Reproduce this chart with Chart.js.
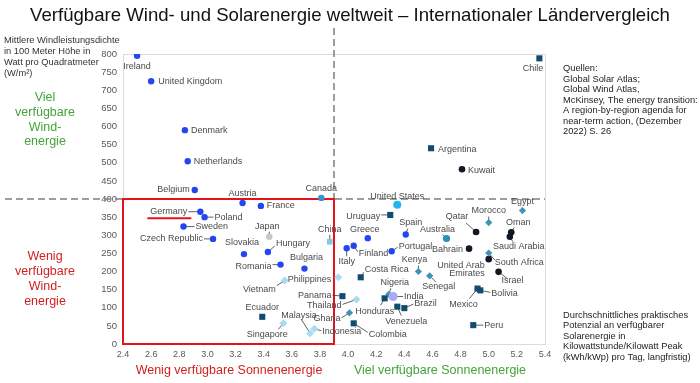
<!DOCTYPE html>
<html>
<head>
<meta charset="utf-8">
<script src="https://cdn.jsdelivr.net/npm/chart.js@4"></script>
<style>
  html, body { margin: 0; padding: 0; background: #fff; }
  #chart { display: block; }
</style>
</head>
<body>
<canvas id="chart" width="700" height="383"></canvas>
<script>
// x = solar potential (kWh/kWp per day), y = wind power density (W/m²)
const europeNames = ['Ireland', 'United Kingdom', 'Denmark', 'Netherlands', 'Belgium', 'Austria', 'France', 'Germany', 'Poland', 'Sweden',
  'Czech Republic', 'Slovakia', 'Hungary', 'Romania', 'Bulgaria', 'Greece', 'Finland', 'Italy', 'Spain', 'Portugal'];
const europeSolar = [2.50, 2.60, 2.84, 2.86, 2.91, 3.25, 3.38, 2.95, 2.98, 2.83, 3.04, 3.26, 3.43, 3.52, 3.69, 4.14, 4.04, 3.99, 4.41, 4.31];
const europeWind = [795, 725, 590, 504, 425, 389, 381, 365, 350, 324, 290, 248, 254, 219, 208, 292, 271, 264, 302, 256];

const otherNames = ['Japan', 'Canada', 'United States', 'China', 'India', 'Australia'];
const otherSolar = [3.44, 3.81, 4.35, 3.87, 4.32, 4.70];
const otherWind = [296, 403, 384, 282, 131, 291];

const latamNames = ['Chile', 'Argentina', 'Uruguay', 'Costa Rica', 'Panama', 'Ecuador', 'Honduras', 'Brazil', 'Venezuela', 'Colombia',
  'Mexico', 'Bolivia', 'Peru'];
const latamSolar = [5.36, 4.59, 4.30, 4.09, 3.96, 3.39, 4.26, 4.40, 4.35, 4.04, 4.92, 4.94, 4.89];
const latamWind = [788, 540, 356, 184, 132, 75, 126, 99, 103, 57, 153, 148, 52];

const africaNames = ['Egypt', 'Morocco', 'South Africa', 'Kenya', 'Senegal', 'Nigeria', 'Ghana'];
const africaSolar = [5.24, 5.00, 5.00, 4.50, 4.58, 4.29, 4.01];
const africaWind = [368, 335, 251, 200, 188, 137, 86];

const asiaNames = ['Philippines', 'Vietnam', 'Thailand', 'Malaysia', 'Singapore', 'Indonesia'];
const asiaSolar = [3.93, 3.55, 4.06, 3.73, 3.54, 3.76];
const asiaWind = [184, 175, 123, 30, 57, 42];

const mideastNames = ['Kuwait', 'Qatar', 'Oman', 'Saudi Arabia', 'Bahrain', 'United Arab Emirates', 'Israel'];
const mideastSolar = [4.81, 4.91, 5.16, 5.15, 4.86, 5.00, 5.07];
const mideastWind = [482, 309, 308, 296, 263, 234, 199];

const solarTicks = { min: 2.4, max: 5.4, step: 0.2 };
const windTicks = { min: 0, max: 800, step: 50 };
const solarSplit = 3.9;
const windSplit = 400;

const otherColors = ['#c8c8c8', '#3b8fd4', '#25b5ee', '#80c8e6', '#a9aaf6', '#2a8fb8'];
const otherStyles = ['circle', 'circle', 'circle', 'rect', 'circle', 'circle'];
const otherSizes = [3.2, 3.2, 4, 4, 4.5, 3.6];

// label placement: [dx, dy, align, leader end dx, leader end dy]
const labelPos = {
  'Ireland': [0, 11, 'center'], 'United Kingdom': [7, 0, 'left'], 'Denmark': [6, 0, 'left'],
  'Netherlands': [6, 0, 'left'], 'Belgium': [-5, 0, 'right'], 'Austria': [0, -9, 'center'],
  'France': [6, 0, 'left'], 'Canada': [0, -9, 'center'], 'Germany': [-13, 0, 'right', -12, 0],
  'Poland': [10, 0, 'left', 9, 0], 'Sweden': [12, 0, 'left', 11, 0], 'Czech Republic': [-10, 0, 'right', -9, 0],
  'Slovakia': [-2, -12, 'center'], 'Japan': [-2, -10, 'center', 0, -5], 'Hungary': [8, -8, 'left', 7, -6],
  'Romania': [-9, 2, 'right', -8, 0], 'Bulgaria': [2, -11, 'center'], 'China': [0, -12, 'center', 0, -7],
  'Philippines': [-7, 2, 'right'], 'Vietnam': [-9, 9, 'right', -8, 5], 'Panama': [-11, -1, 'right', -10, -1],
  'Thailand': [-15, 6, 'right', -14, 5], 'Ecuador': [0, -9, 'center'], 'Malaysia': [-11, -18, 'center', -9, -14],
  'Singapore': [-16, 11, 'center', -5, 6], 'Indonesia': [8, 3, 'left', 7, 2], 'Ghana': [-9, 6, 'right', -8, 5],
  'Colombia': [15, 11, 'left', 14, 9], 'United States': [0, -8, 'center'], 'Uruguay': [-10, 2, 'right', -9, 0],
  'Spain': [5, -12, 'center', 2, -6], 'Greece': [-3, -9, 'center'], 'Finland': [5, 8, 'left', 4, 6],
  'Italy': [0, 13, 'center', 0, 8], 'Portugal': [7, -5, 'left', 6, -4], 'Australia': [-9, -9, 'center', -4, -4],
  'Qatar': [-19, -15, 'center', -10, -9], 'Morocco': [0, -12, 'center', 0, -6], 'Egypt': [0, -9, 'center'],
  'Oman': [7, -10, 'center', 3, -5], 'Saudi Arabia': [9, 10, 'center', 3, 5], 'Bahrain': [-6, 1, 'right'],
  'South Africa': [6, 10, 'left', 6, 7], 'United Arab Emirates': [-4, 6, 'right'], 'Israel': [14, 9, 'center', 9, 7],
  'Kenya': [-4, -12, 'center', 0, -6], 'Senegal': [9, 11, 'center', 6, 6], 'Costa Rica': [4, -8, 'left', 3, -5],
  'Nigeria': [6, -12, 'center', 2, -6], 'India': [11, 0, 'left', 10, 0], 'Honduras': [-10, 13, 'center', -4, 7],
  'Brazil': [10, -5, 'left', 9, -4], 'Venezuela': [9, 15, 'center', 4, 9], 'Mexico': [-14, 16, 'center', -8, 10],
  'Bolivia': [11, 3, 'left', 10, 2], 'Peru': [11, 0, 'left', 10, 0], 'Chile': [4, 10, 'right'],
  'Argentina': [7, 1, 'left'], 'Kuwait': [6, 1, 'left']
};
const labelText = { 'United Arab Emirates': 'United Arab\nEmirates' };

const FONT = '"Liberation Sans", Arial, sans-serif';

function toPoints(solar, wind) {
  return solar.map((s, i) => ({ x: s, y: wind[i] }));
}

function line(ctx, x1, y1, x2, y2) {
  ctx.beginPath();
  ctx.moveTo(x1, y1);
  ctx.lineTo(x2, y2);
  ctx.stroke();
}

function textLines(ctx, lines, x, y, step) {
  lines.forEach((t, i) => ctx.fillText(t, x, y + i * step));
}

const overlay = {
  id: 'overlay',
  beforeDatasetsDraw(chart) {
    const { ctx, chartArea: a, scales: { x, y } } = chart;
    ctx.save();
    ctx.strokeStyle = '#dcdcdc';
    ctx.lineWidth = 1;
    ctx.strokeRect(a.left + 0.5, a.top + 0.5, a.right - a.left, a.bottom - a.top);

    const yw = y.getPixelForValue(windSplit);
    const xs = x.getPixelForValue(solarSplit);
    ctx.setLineDash([7, 4]);
    ctx.strokeStyle = '#7f7f7f';
    ctx.lineWidth = 1.5;
    line(ctx, 5, yw, a.right, yw);
    line(ctx, xs, 28, xs, yw);
    ctx.setLineDash([]);

    ctx.strokeStyle = '#e3131b';
    ctx.lineWidth = 2;
    const x0 = x.getPixelForValue(solarTicks.min);
    ctx.strokeRect(x0, yw, xs - x0, y.getPixelForValue(0) - yw);

    // leader lines, markers go on top of them
    ctx.strokeStyle = '#3a3a3a';
    ctx.lineWidth = 0.8;
    chart.data.datasets.forEach((ds, i) => {
      chart.getDatasetMeta(i).data.forEach((pt, j) => {
        const p = labelPos[ds.names[j]];
        if (p && p.length > 3) line(ctx, pt.x, pt.y, pt.x + p[3], pt.y + p[4]);
      });
    });
    ctx.restore();
  },
  afterDatasetsDraw(chart) {
    const ctx = chart.ctx;
    ctx.save();
    ctx.font = '9px ' + FONT;
    ctx.fillStyle = '#4a4a4a';
    ctx.textBaseline = 'middle';
    chart.data.datasets.forEach((ds, i) => {
      chart.getDatasetMeta(i).data.forEach((pt, j) => {
        const name = ds.names[j];
        const p = labelPos[name] || [6, 0, 'left'];
        const txt = (labelText[name] || name).split('\n');
        ctx.textAlign = p[2];
        textLines(ctx, txt, pt.x + p[0], pt.y + p[1], 8.6);
        if (name === 'Germany') {
          const w = ctx.measureText(name).width;
          const right = pt.x + p[0];
          ctx.strokeStyle = '#e3131b';
          ctx.lineWidth = 2;
          line(ctx, right - w - 3, pt.y + 6.5, right + 4, pt.y + 6.5);
        }
      });
    });
    ctx.restore();
  },
  afterDraw(chart) {
    const ctx = chart.ctx;
    ctx.save();
    const title = 'Verfügbare Wind- und Solarenergie weltweit – Internationaler Ländervergleich';
    ctx.font = '20px ' + FONT;
    const size = 20 * 640 / ctx.measureText(title).width;
    ctx.font = size.toFixed(2) + 'px ' + FONT;
    ctx.fillStyle = '#111';
    ctx.textAlign = 'center';
    ctx.textBaseline = 'alphabetic';
    ctx.fillText(title, 350, 21);

    ctx.textBaseline = 'middle';
    ctx.textAlign = 'left';
    ctx.font = '9.3px ' + FONT;
    ctx.fillStyle = '#333';
    textLines(ctx, ['Mittlere Windleistungsdichte', 'in 100 Meter Höhe in', 'Watt pro Quadratmeter', '(W/m²)'], 4, 40, 11);

    ctx.fillStyle = '#222';
    textLines(ctx, ['Quellen:', 'Global Solar Atlas;', 'Global Wind Atlas,', 'McKinsey, The energy transition:',
      'A region-by-region agenda for', 'near-term action, (Dezember', '2022) S. 26'], 563, 68.5, 10.5);
    textLines(ctx, ['Durchschnittliches praktisches', 'Potenzial an verfügbarer', 'Solarenergie in',
      'Kilowattstunde/Kilowatt Peak', '(kWh/kWp) pro Tag, langfristig)'], 563, 315, 10.6);

    ctx.textAlign = 'center';
    ctx.font = '12.5px ' + FONT;
    ctx.fillStyle = '#44a43a';
    textLines(ctx, ['Viel', 'verfügbare', 'Wind-', 'energie'], 45, 98, 14.6);
    ctx.fillText('Viel verfügbare Sonnenenergie', 440, 371);
    ctx.fillStyle = '#d21f1f';
    textLines(ctx, ['Wenig', 'verfügbare', 'Wind-', 'energie'], 45, 257, 15);
    ctx.fillText('Wenig verfügbare Sonnenenergie', 229, 371);
    ctx.restore();
  }
};

new Chart(document.getElementById('chart'), {
  type: 'scatter',
  data: {
    datasets: [
      { names: europeNames, data: toPoints(europeSolar, europeWind), pointStyle: 'circle', pointRadius: 3.2, pointBackgroundColor: '#2446f0' },
      { names: otherNames, data: toPoints(otherSolar, otherWind), pointStyle: otherStyles, pointRadius: otherSizes, pointBackgroundColor: otherColors },
      { names: latamNames, data: toPoints(latamSolar, latamWind), pointStyle: 'rect', pointRadius: 4.3, pointBackgroundColor: '#0f4c6e' },
      { names: africaNames, data: toPoints(africaSolar, africaWind), pointStyle: 'rectRot', pointRadius: 3.6, pointBackgroundColor: '#3d95b5' },
      { names: asiaNames, data: toPoints(asiaSolar, asiaWind), pointStyle: 'rectRot', pointRadius: 4, pointBackgroundColor: '#a8dcf0' },
      { names: mideastNames, data: toPoints(mideastSolar, mideastWind), pointStyle: 'circle', pointRadius: 3.3, pointBackgroundColor: '#101823' }
    ]
  },
  options: {
    responsive: false,
    animation: false,
    devicePixelRatio: 1,
    elements: { point: { borderWidth: 0, hoverRadius: 4 } },
    layout: { padding: { left: 90, right: 155, top: 54, bottom: 24 } },
    plugins: { legend: { display: false }, tooltip: { enabled: false } },
    scales: {
      x: {
        type: 'linear',
        min: solarTicks.min,
        max: solarTicks.max,
        grid: { display: false, drawTicks: false },
        border: { display: false },
        ticks: {
          stepSize: solarTicks.step, padding: 5, maxRotation: 0, minRotation: 0, autoSkip: false,
          color: '#595959', font: { size: 9, family: FONT }, callback: v => v.toFixed(1)
        },
        afterFit: s => { s.height = 15; }
      },
      y: {
        min: windTicks.min,
        max: windTicks.max,
        grid: { display: false, drawTicks: false },
        border: { display: false },
        ticks: { stepSize: windTicks.step, padding: 6, autoSkip: false, color: '#595959', font: { size: 9.5, family: FONT } },
        afterFit: s => { s.width = 33; }
      }
    }
  },
  plugins: [overlay]
});
</script>
</body>
</html>
